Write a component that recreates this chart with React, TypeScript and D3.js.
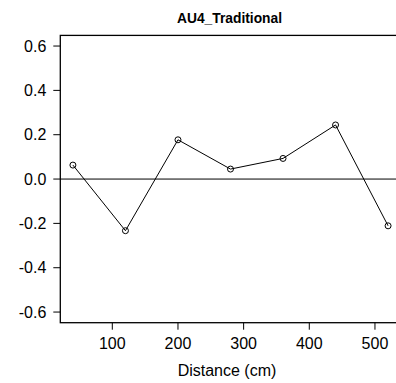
import React from "react";
import * as d3 from "d3";

const distances = [40, 120, 200, 280, 360, 440, 520];
const values = [0.063, -0.233, 0.177, 0.045, 0.093, 0.244, -0.211];
const xTicks = [100, 200, 300, 400, 500];
const yTicks = [-0.6, -0.4, -0.2, 0.0, 0.2, 0.4, 0.6];
const title = "AU4_Traditional";
const xLabel = "Distance (cm)";

export default function App() {
  const W = 396, H = 383;
  const x = d3.scaleLinear().domain([20.8, 539.2]).range([60.3, 400.7]);
  const y = d3.scaleLinear().domain([-0.648, 0.648]).range([322.7, 35.4]);
  const line = d3
    .line<number>()
    .x((_, i) => x(distances[i]))
    .y((d) => y(d));
  const font = "Liberation Sans, Arial, Helvetica, sans-serif";
  const x0 = x.range()[0], x1 = x.range()[1];
  const y0 = y.range()[0], y1 = y.range()[1];
  return (
    <svg
      width={W}
      height={H}
      style={{ position: "absolute", left: 0, top: 0, background: "#fff" }}
      fontFamily={font}
    >
      <rect x={0} y={0} width={W} height={H} fill="#fff" />
      <text x={229.5} y={23.3} textAnchor="middle" fontSize={13.8} fontWeight="bold">
        {title}
      </text>
      <rect x={x0} y={y1} width={x1 - x0} height={y0 - y1} fill="none" stroke="#000" strokeWidth={1.3} />
      <line x1={x0} x2={x1} y1={y(0)} y2={y(0)} stroke="#000" strokeWidth={1} />
      {yTicks.map((t) => (
        <g key={t}>
          <line x1={x0 - 7} x2={x0} y1={y(t)} y2={y(t)} stroke="#000" strokeWidth={1} />
          <text x={x0 - 14} y={y(t)} dy="0.36em" textAnchor="end" fontSize={16}>
            {t.toFixed(1)}
          </text>
        </g>
      ))}
      {xTicks.map((t) => (
        <g key={t}>
          <line x1={x(t)} x2={x(t)} y1={y0} y2={y0 + 7} stroke="#000" strokeWidth={1} />
          <text x={x(t)} y={348.5} textAnchor="middle" fontSize={16}>
            {t}
          </text>
        </g>
      ))}
      <text x={227} y={376} textAnchor="middle" fontSize={16}>
        {xLabel}
      </text>
      <path d={line(values) || ""} fill="none" stroke="#000" strokeWidth={1} />
      {values.map((v, i) => (
        <circle key={i} cx={x(distances[i])} cy={y(v)} r={3} fill="none" stroke="#000" strokeWidth={1} />
      ))}
    </svg>
  );
}
